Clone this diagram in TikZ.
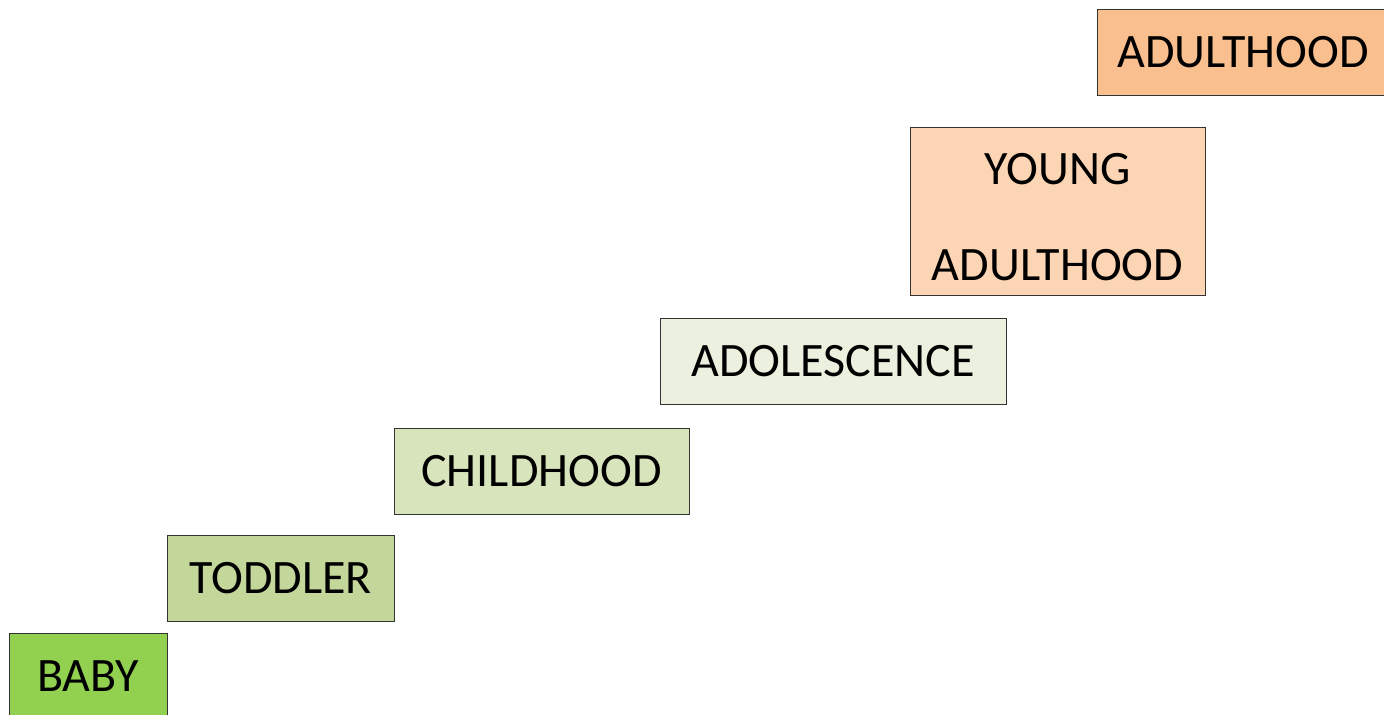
\documentclass[tikz,border=0pt]{standalone}
\usepackage{fontspec}
\setmainfont{Carlito}
\usetikzlibrary{positioning}

\definecolor{babygreen}{HTML}{92D050}
\definecolor{toddlergreen}{HTML}{C4D79B}
\definecolor{childgreen}{HTML}{D8E4BC}
\definecolor{teengreen}{HTML}{EBF1DE}
\definecolor{youngpeach}{HTML}{FCD5B4}
\definecolor{adultpeach}{HTML}{FABF8F}

\begin{document}
\begin{tikzpicture}[x=0.5pt,y=-0.5pt]
    \tikzstyle{stage}=[draw=black!80,line width=0.5pt,rectangle,inner sep=0pt,minimum height=43pt,
      font=\fontsize{24}{29}\selectfont]

    \clip (0,0) rectangle (1384,714);

    \node[stage,fill=babygreen,minimum width=79pt]      (baby)  at (88,676)     {BABY};
    \node[stage,fill=toddlergreen,minimum width=113.5pt] (toddler) at (280.5,578) {TODDLER};
    \node[stage,fill=childgreen,minimum width=147.5pt]  (child) at (541.5,471)  {CHILDHOOD};
    \node[stage,fill=teengreen,minimum width=173pt]     (teen)  at (833,361)    {ADOLESCENCE};
    \node[stage,fill=youngpeach,minimum width=147.5pt,minimum height=84pt,align=center,
      font=\fontsize{24}{48}\selectfont]               (young) at (1057.5,211) {\rule{0pt}{21.5pt}YOUNG\\ADULTHOOD};
    \node[stage,fill=adultpeach,minimum width=146pt]    (adult) at (1243,52)    {ADULTHOOD};
\end{tikzpicture}
\end{document}
